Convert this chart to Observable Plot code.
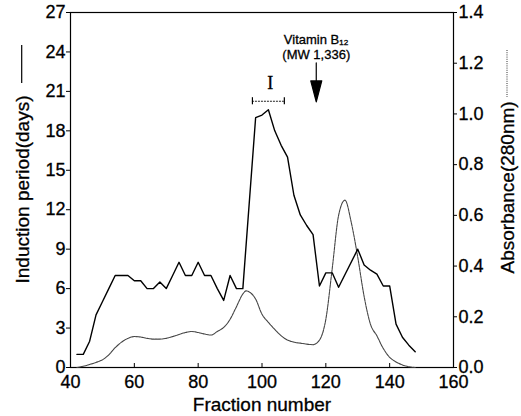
<!DOCTYPE html>
<html>
<head>
<meta charset="utf-8">
<script src="https://cdn.jsdelivr.net/npm/d3@7"></script>
<script src="https://cdn.jsdelivr.net/npm/@observablehq/plot@0.6"></script>
<style>
  html, body { margin: 0; padding: 0; background: #fff; }
  svg text { stroke: black; stroke-width: 0.3px; }
</style>
</head>
<body>
<div id="chart"></div>
<script>
// Induction period (days), solid line
const inductionFraction = [42, 44, 46, 48, 50, 52, 54, 56, 58, 60, 62, 64, 66, 68, 70, 72, 74, 76, 78, 80, 82, 84, 86, 88, 90, 92, 94, 98, 100, 102, 104, 106, 108, 110, 112, 114, 116, 118, 120, 122, 124, 130, 132, 134, 136, 138, 140, 142, 144, 146, 148];
const inductionDays     = [1, 1, 2, 4, 5, 6, 7, 7, 7, 6.6, 6.6, 6, 6, 6.5, 6, 7, 8, 7, 7, 8, 7, 7, 6, 5.1, 7, 6, 6, 19, 19.2, 19.6, 18, 16.9, 16, 13.1, 11.6, 10.8, 10.1, 6.2, 7.2, 7.2, 6.1, 9, 7.8, 7.4, 7.1, 6.2, 6.2, 3.3, 2.3, 1.7, 1.2];

// Absorbance (280 nm), dotted line
const absFraction  = [42, 44, 46, 48, 50, 52, 54, 56, 58, 60, 62, 64, 66, 68, 70, 72, 74, 76, 78, 80, 82, 84, 86, 88, 90, 92, 94, 95, 96, 98, 100, 102, 104, 106, 108, 110, 112, 114, 116, 118, 120, 122, 124, 126, 128, 130, 132, 134, 136, 138, 140, 142, 144, 146, 148];
const absorbance   = [0, 0.005, 0.012, 0.02, 0.03, 0.05, 0.078, 0.1, 0.115, 0.122, 0.12, 0.115, 0.112, 0.112, 0.115, 0.122, 0.13, 0.138, 0.142, 0.138, 0.132, 0.128, 0.142, 0.158, 0.19, 0.24, 0.29, 0.302, 0.298, 0.27, 0.21, 0.178, 0.15, 0.125, 0.108, 0.1, 0.096, 0.092, 0.09, 0.108, 0.19, 0.39, 0.6, 0.66, 0.57, 0.435, 0.28, 0.17, 0.125, 0.075, 0.04, 0.022, 0.01, 0.003, 0];

// Axis ticks
const xTicks   = [40, 60, 80, 100, 120, 140, 160];
const yTicks   = [0, 3, 6, 9, 12, 15, 18, 21, 24, 27];
const absTicks = [0, 0.2, 0.4, 0.6, 0.8, 1.0, 1.2, 1.4];

// Annotations
const bracketFractions = [97, 107];
const bracketLevel = 20.25;
const fractionILabel = { x: 102.6, y: 21.2, text: "I" };
const vitaminFraction = 117;
const vitaminTipLevel = 20.2;
const vitaminLabels = [
  { y: 24.6, text: "Vitamin B\u2081\u2082" },
  { y: 23.45, text: "(MW 1,336)" }
];

const Y_MAX = 27, ABS_MAX = 1.4;
const absToY = v => v * Y_MAX / ABS_MAX;
const yToAbs = v => v * ABS_MAX / Y_MAX;

const indData = inductionFraction.map((f, i) => ({ f, v: inductionDays[i] }));
const absData = absFraction.map((f, i) => ({ f, v: absToY(absorbance[i]) }));

const arrowShape = {
  draw(ctx, l) {
    ctx.moveTo(0, 0);
    ctx.lineTo(0, -l + 16);
    ctx.moveTo(0, -l);
    ctx.lineTo(-5.5, -l + 21);
    ctx.lineTo(5.5, -l + 21);
    ctx.closePath();
  }
};

const chart = Plot.plot({
  width: 521,
  height: 416,
  marginLeft: 70,
  marginRight: 68,
  marginTop: 12,
  marginBottom: 49,
  style: { fontFamily: "'Liberation Sans', Arial, sans-serif", fontSize: "18px", color: "black", background: "white" },
  x: { domain: [40, 160] },
  y: { domain: [0, Y_MAX] },
  marks: [
    Plot.frame({ stroke: "black", strokeWidth: 1.2 }),
    Plot.axisX({ ticks: xTicks, tickSize: -4, tickPadding: 12, tickFormat: d => String(d), label: null }),
    Plot.axisY({ ticks: yTicks, tickSize: 4, tickPadding: 1, tickFormat: d => String(d), label: null }),
    Plot.axisY({ anchor: "right", ticks: absTicks.map(absToY), tickSize: 3, tickPadding: 2, tickFormat: d => yToAbs(d).toFixed(1), label: null }),
    Plot.line(absData, { x: "f", y: "v", stroke: "#444", strokeWidth: 1.1, strokeDasharray: "3,0.8", curve: "monotone-x" }),
    Plot.line(indData, { x: "f", y: "v", stroke: "black", strokeWidth: 1.4 }),
    // bracket "I"
    Plot.ruleY([bracketLevel], { x1: bracketFractions[0], x2: bracketFractions[1], stroke: "#222", strokeWidth: 1, strokeDasharray: "2,1" }),
    Plot.ruleX(bracketFractions, { y1: bracketLevel - 0.27, y2: bracketLevel + 0.27, stroke: "black", strokeWidth: 1.2 }),
    Plot.text([fractionILabel], { x: "x", y: "y", text: "text", fontFamily: "'Liberation Serif', 'Times New Roman', serif", fontSize: 18, lineAnchor: "bottom" }),
    // Vitamin B12 marker
    Plot.vector([vitaminFraction], { x: d => d, y: vitaminTipLevel, length: 39, rotate: 180, anchor: "end", shape: arrowShape, fill: "black", stroke: "black", strokeWidth: 1.2 }),
    Plot.text(vitaminLabels, { x: vitaminFraction, y: "y", text: "text", fontSize: 13, lineAnchor: "bottom" }),
    // axis titles
    Plot.text(["Fraction number"], { frameAnchor: "bottom", dy: 43, lineAnchor: "bottom", fontSize: 19 }),
    Plot.text(["Induction period(days)"], { frameAnchor: "left", dx: -42, dy: 93.5, rotate: -90, textAnchor: "start", lineAnchor: "bottom", fontSize: 19 }),
    Plot.text(["Absorbance(280nm)"], { frameAnchor: "right", dx: 60, dy: 83.5, rotate: -90, textAnchor: "start", lineAnchor: "bottom", fontSize: 19 })
  ]
});

document.getElementById("chart").appendChild(chart);

// legend keys next to the axis titles
const svg = d3.select(chart);
svg.append("line").attr("x1", 21.7).attr("x2", 21.7).attr("y1", 45).attr("y2", 83)
  .attr("stroke", "black").attr("stroke-width", 1.2);
svg.append("line").attr("x1", 507).attr("x2", 507).attr("y1", 50).attr("y2", 97)
  .attr("stroke", "#333").attr("stroke-width", 1).attr("stroke-dasharray", "1,1.2");
</script>
</body>
</html>
